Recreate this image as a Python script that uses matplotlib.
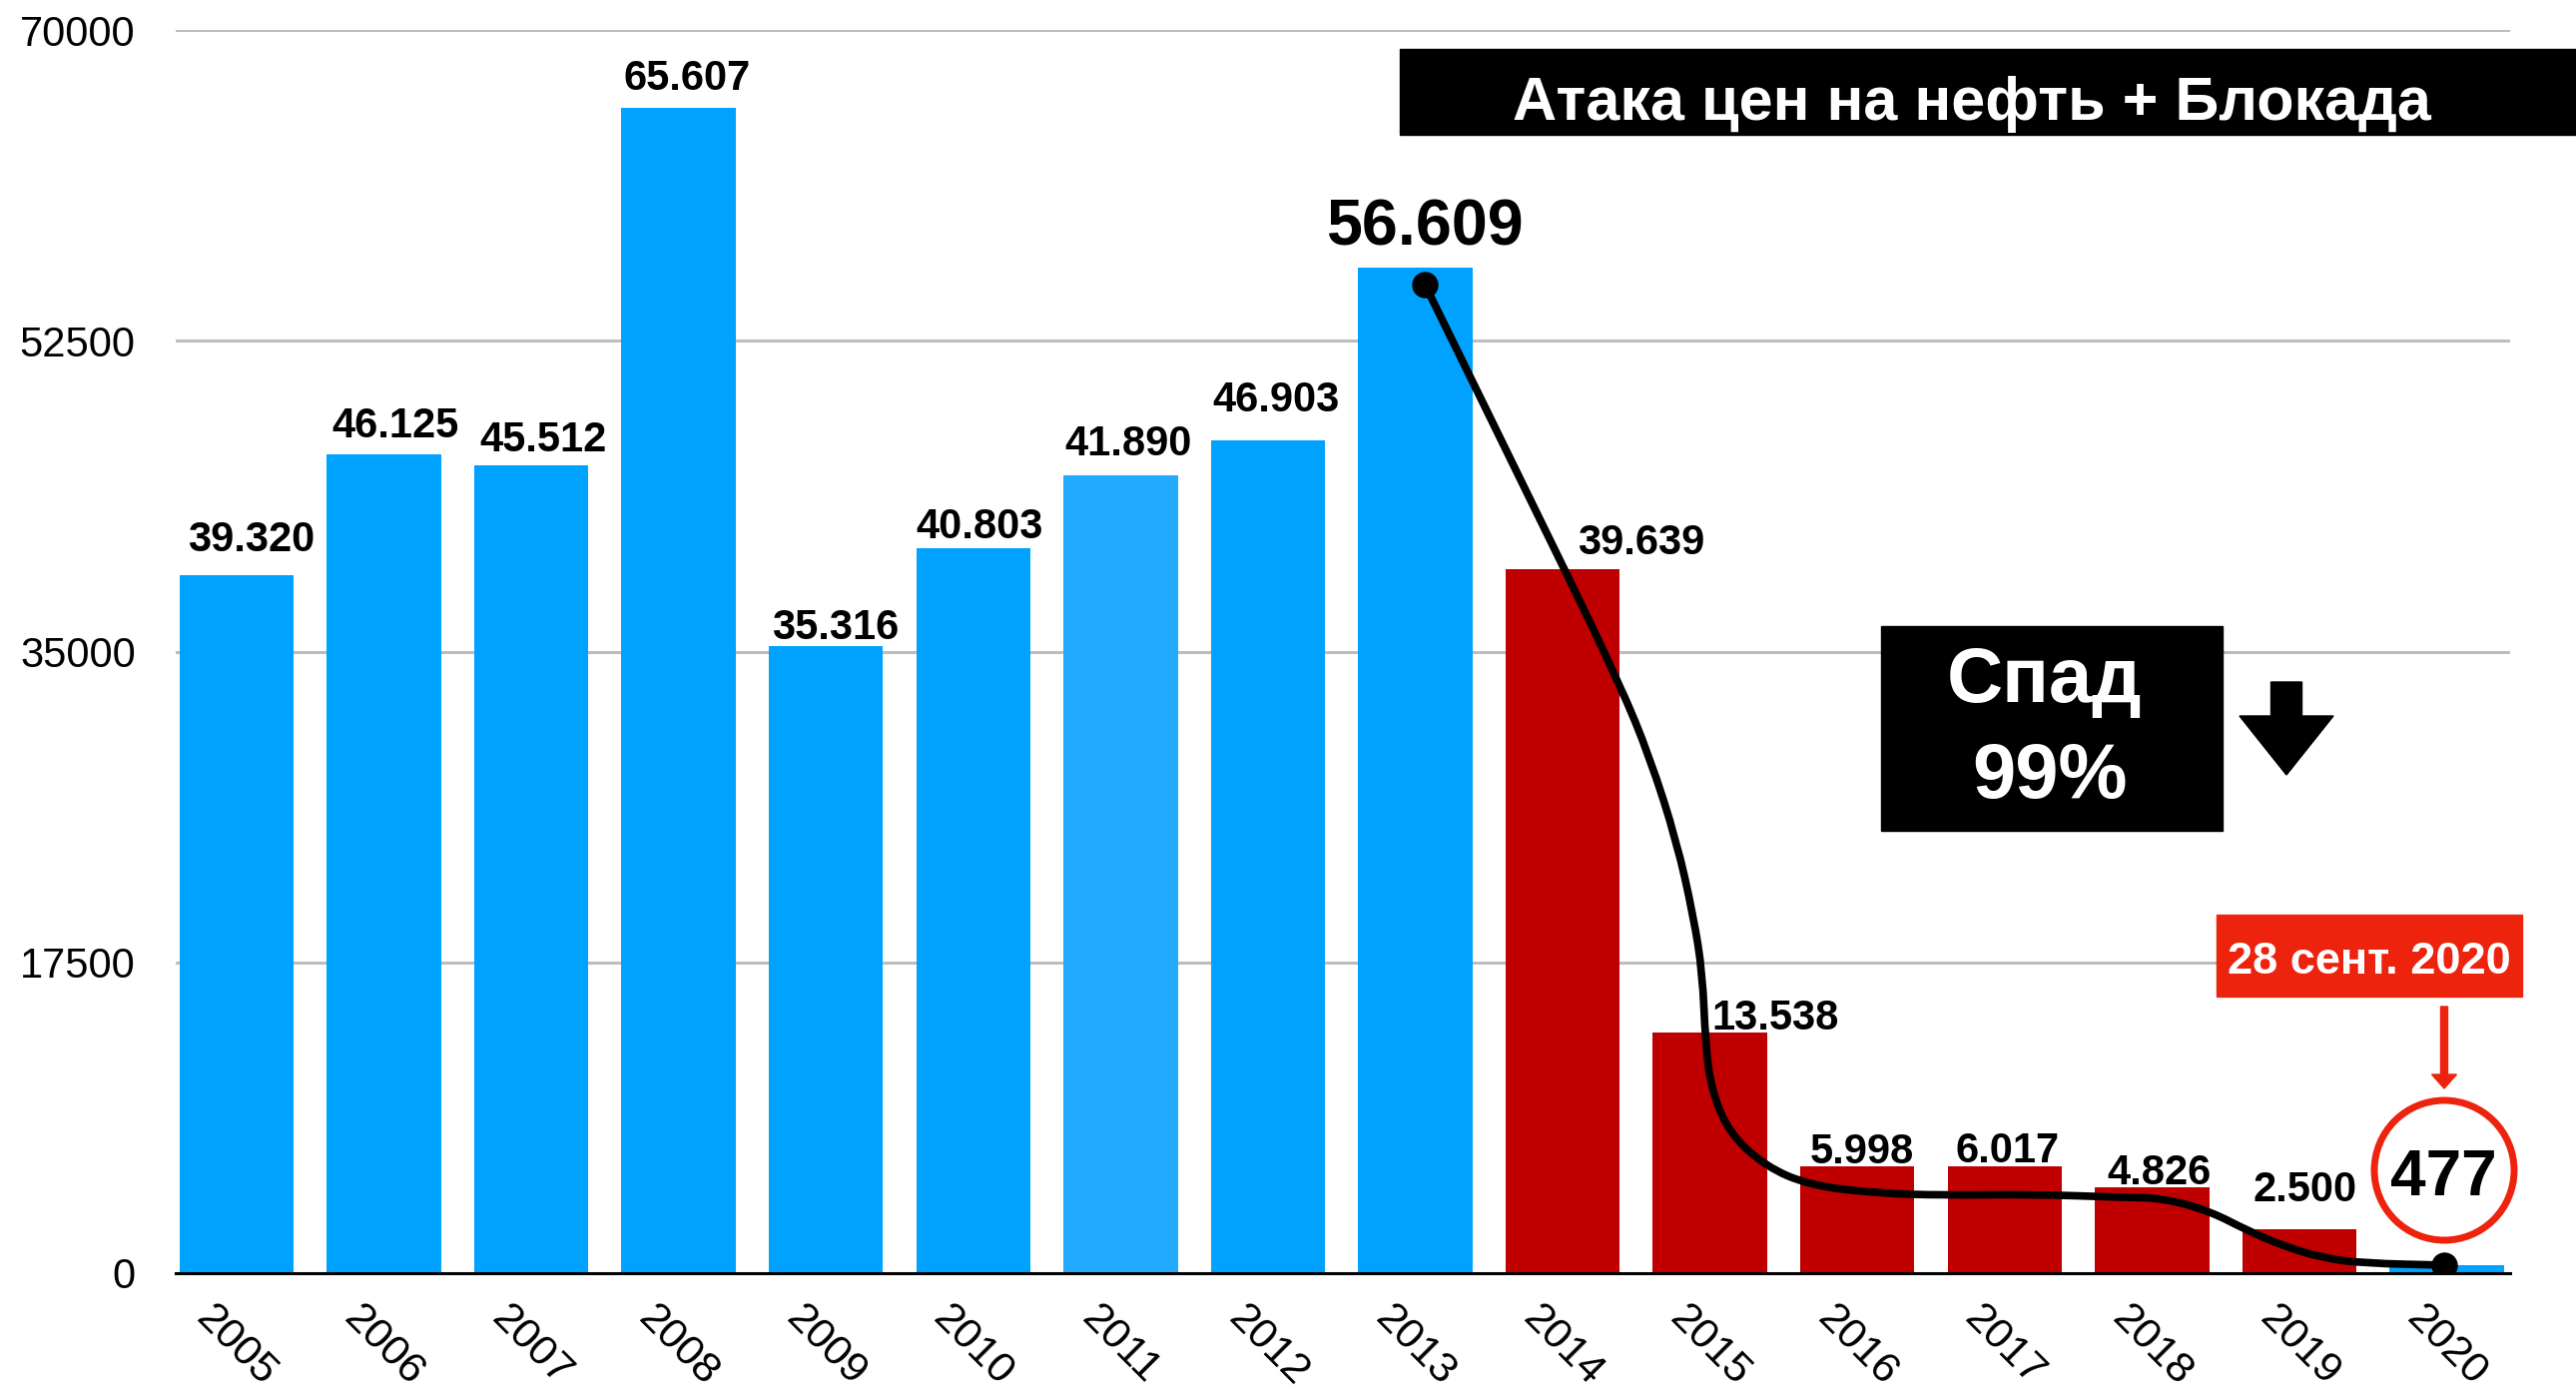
import matplotlib
matplotlib.use("Agg")
import matplotlib.pyplot as plt
from matplotlib.path import Path
from matplotlib.patches import PathPatch, Rectangle, Polygon, Ellipse

plt.rcParams["font.family"] = ["Liberation Sans", "DejaVu Sans"]

# данные
years = ["2005", "2006", "2007", "2008", "2009", "2010", "2011", "2012",
         "2013", "2014", "2015", "2016", "2017", "2018", "2019", "2020"]
labeled_values = [39320, 46125, 45512, 65607, 35316, 40803, 41890, 46903,
                  56609, 39639, 13538, 5998, 6017, 4826, 2500, 477]
# высота столбцов на картинке (2011 нарисован выше подписи)
bar_heights = [39320, 46125, 45512, 65607, 35316, 40803, 44900, 46903,
               56609, 39639, 13538, 5998, 6017, 4826, 2500, 477]

# кривая спада (точки)
curve_x = [8.065, 8.953, 9.393, 9.590, 9.773, 9.888, 9.949, 9.969, 10.010,
           10.132, 10.376, 10.674, 11.128, 11.583, 12.192, 12.796, 13.080,
           13.392, 13.643, 13.894, 14.165, 14.436, 14.985]
curve_y = [55660, 40670, 33060, 29070, 24340, 20070, 16870, 12930, 10290,
           7870, 6020, 4950, 4500, 4385, 4440, 4270, 4220,
           3490, 2420, 1520, 845, 560, 450]

yticks = [0, 17500, 35000, 52500, 70000]

BLUE = "#00A2FF"
BLUE_LIGHT = "#22AAFF"
RED_BAR = "#C00000"
RED = "#ED230D"

W, H = 2580, 1394


def fx(x):
    return x / W


def fy(y):
    return 1 - y / H


fig = plt.figure(figsize=(W / 100, H / 100), dpi=100)
ax = fig.add_axes([fx(176), fy(1275), (2514 - 176) / W, (1275 - 30) / H])

colors = []
for y in years:
    if y == "2011":
        colors.append(BLUE_LIGHT)
    elif "2014" <= y <= "2019":
        colors.append(RED_BAR)
    else:
        colors.append(BLUE)

x = list(range(len(years)))
ax.bar(x, bar_heights, width=0.775, color=colors, zorder=2)

ax.set_xlim(-0.413, 15.43)
ax.set_ylim(0, 70000)
ax.set_yticks(yticks)
ax.set_yticklabels([str(t) for t in yticks])
ax.set_xticks(x)
ax.set_xticklabels(years, rotation=-45, ha="center", va="top")
ax.tick_params(axis="y", length=0, pad=29, labelsize=30)
ax.tick_params(axis="x", length=0, pad=18, labelsize=31)
ax.set_axisbelow(True)
ax.yaxis.grid(True, color="#BDBDBD", lw=2.2)
for s in ["top", "right", "left"]:
    ax.spines[s].set_visible(False)
ax.spines["bottom"].set_color("black")
ax.spines["bottom"].set_linewidth(2.2)
ax.spines["bottom"].set_zorder(5)

# подписи значений: сдвиг по x (доли столбца) и по y (пт)
label_dx = [0.10, 0.08, 0.08, 0.055, 0.065, 0.045, 0.05, 0.054,
            0.065, 0.53, 0.44, 0.03, 0.02, 0.05, 0.035]
label_dy = [16.8, 12.1, 9.7, 13.3, 5, 7.3, 15, 20.5,
            16.6, 10.9, 2.6, 2.6, 2.6, 2.6, 19.5]
for i in range(len(years) - 1):
    txt = f"{labeled_values[i]:,}".replace(",", ".")
    size = 46.5 if years[i] == "2013" else 30
    ax.annotate(txt, (i + label_dx[i], bar_heights[i]), xytext=(0, label_dy[i]),
                textcoords="offset points", ha="center", va="baseline",
                fontsize=size, fontweight="bold", zorder=6)

# сглаженная кривая
pts = list(zip(curve_x, curve_y))
verts = [pts[0]]
codes = [Path.MOVETO]
for i in range(1, len(pts) - 1):
    mid = ((pts[i][0] + pts[i + 1][0]) / 2, (pts[i][1] + pts[i + 1][1]) / 2)
    verts += [pts[i], mid]
    codes += [Path.CURVE3, Path.CURVE3]
verts.append(pts[-1])
codes.append(Path.LINETO)
ax.add_patch(PathPatch(Path(verts, codes), fill=False, ec="black", lw=5.5,
                       capstyle="round", joinstyle="round", zorder=4))
ax.plot([curve_x[0], curve_x[-1]], [curve_y[0], curve_y[-1]], "o",
        color="black", ms=18, zorder=5)

# заголовок в чёрной плашке
fig.patches.append(Rectangle((fx(1402), fy(135)), (W - 1402) / W, 86 / H,
                             transform=fig.transFigure, color="black", zorder=0))
fig.text(fx(1975), fy(120), "Атака цен на нефть + Блокада", color="white",
         fontsize=44, fontweight="bold", ha="center", va="baseline")

# плашка "Спад 99%"
fig.patches.append(Rectangle((fx(1884), fy(832)), (2226 - 1884) / W, (832 - 627) / H,
                             transform=fig.transFigure, color="black", zorder=3))
fig.text(fx(2048), fy(703), "Спад", color="white", fontsize=56,
         fontweight="bold", ha="center", va="baseline", zorder=4)
fig.text(fx(2053), fy(799), "99%", color="white", fontsize=56,
         fontweight="bold", ha="center", va="baseline", zorder=4)


def arrow_down(cx, y0, y1, y_tip, stem_w, head_w, color):
    pts = [(cx - stem_w / 2, y0), (cx + stem_w / 2, y0), (cx + stem_w / 2, y1),
           (cx + head_w / 2, y1), (cx, y_tip), (cx - head_w / 2, y1),
           (cx - stem_w / 2, y1)]
    fig.patches.append(Polygon([(fx(a), fy(b)) for a, b in pts], closed=True,
                               transform=fig.transFigure, color=color, zorder=3))


arrow_down(2290, 683, 717, 776, 31, 94, "black")

# красная плашка с датой
fig.patches.append(Rectangle((fx(2220), fy(998)), (2526 - 2220) / W, (998 - 916) / H,
                             transform=fig.transFigure, color=RED, zorder=3))
fig.text(fx(2373), fy(975), "28 сент. 2020", color="white", fontsize=32.5,
         fontweight="bold", ha="center", va="baseline", zorder=4)
arrow_down(2448, 1008, 1076, 1090, 7, 25, RED)

# кружок с последним значением
fig.patches.append(Ellipse((fx(2448), fy(1172)), 140 / W, 140 / H,
                           transform=fig.transFigure, fill=False, ec=RED,
                           lw=5, zorder=3))
fig.text(fx(2447), fy(1197), f"{labeled_values[-1]}", fontsize=46,
         fontweight="bold", ha="center", va="baseline", zorder=4)

fig.savefig("out.png", dpi=100)
